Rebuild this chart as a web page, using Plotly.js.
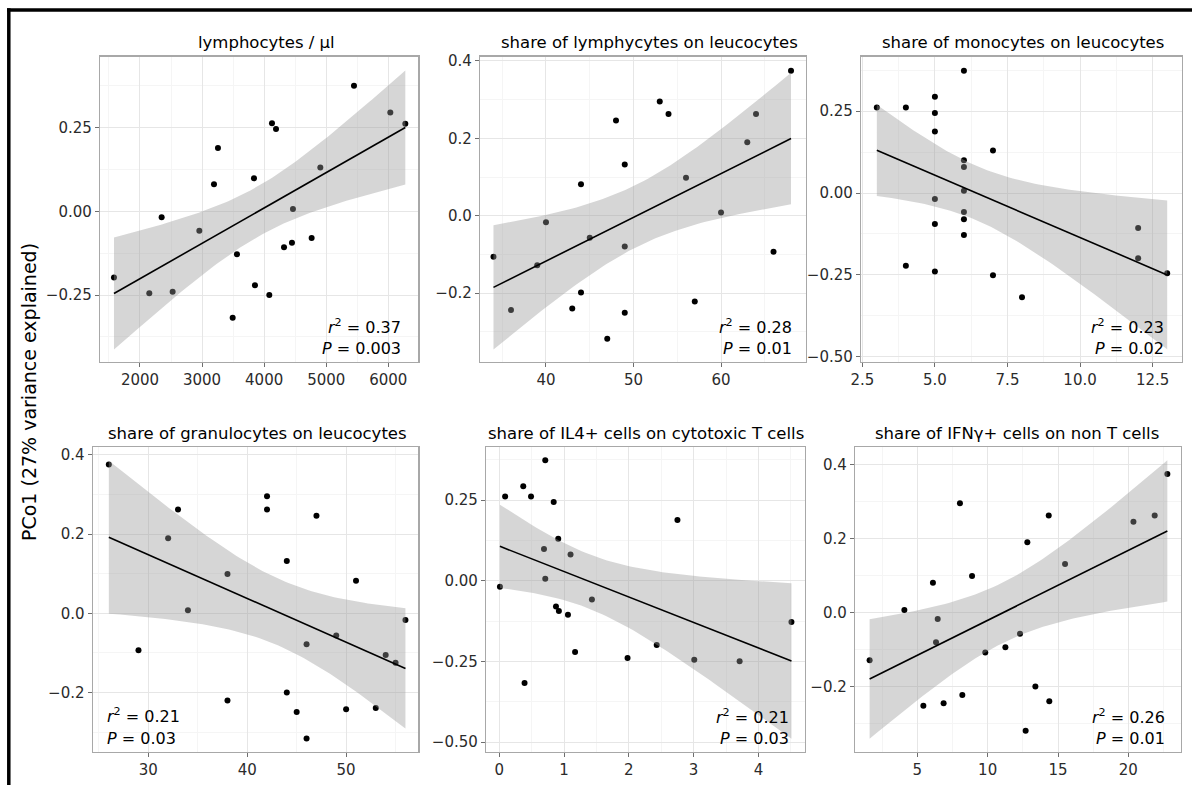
<!DOCTYPE html>
<html>
<head>
<meta charset="utf-8">
<script src="https://cdn.plot.ly/plotly-3.0.1.min.js"></script>
<style>
html,body{margin:0;padding:0;background:#ffffff;}
#chart{width:1192px;height:785px;}
</style>
</head>
<body>
<div id="chart"></div>
<script>
// ---------------- data ----------------
const panelTitles = [
  "lymphocytes / µl",
  "share of lymphycytes on leucocytes",
  "share of monocytes on leucocytes",
  "share of granulocytes on leucocytes",
  "share of IL4+ cells on cytotoxic T cells",
  "share of IFNγ+ cells on non T cells"
];
const yAxisTitle = "PCo1 (27% variance explained)";
const r2Values = ["0.37", "0.28", "0.23", "0.21", "0.21", "0.26"];
const pValues  = ["0.003", "0.01", "0.02", "0.03", "0.03", "0.01"];

const lymphPerUl = [1581, 2150, 2349, 2526, 2956, 3192, 3256, 3493, 3562, 3836, 3852, 4083, 4126, 4191, 4320, 4448, 4464, 4765, 4905, 5447, 6032, 6274];
const pco1Lymph  = [-0.198, -0.245, -0.018, -0.240, -0.058, 0.081, 0.189, -0.318, -0.128, 0.099, -0.221, -0.250, 0.263, 0.246, -0.107, -0.094, 0.007, -0.080, 0.131, 0.375, 0.295, 0.262];

const lymphShare = [34, 36, 39, 40, 43, 44, 44, 45, 47, 48, 49, 49, 49, 53, 54, 56, 57, 60, 63, 64, 66, 68];
const pco1LymphShare = [-0.106, -0.244, -0.128, -0.017, -0.240, 0.081, -0.199, -0.057, -0.318, 0.246, 0.132, -0.080, -0.251, 0.295, 0.263, 0.098, -0.222, 0.008, 0.190, 0.263, -0.093, 0.375];

const monoShare = [3, 4, 4, 5, 5, 5, 5, 5, 5, 6, 6, 6, 6, 6, 6, 6, 7, 7, 8, 12, 12, 13];
const pco1Mono  = [0.261, 0.261, -0.222, 0.294, 0.244, 0.188, -0.018, -0.095, -0.240, 0.373, 0.100, 0.079, 0.007, -0.058, -0.080, -0.128, 0.130, -0.251, -0.318, -0.107, -0.199, -0.245];

const granShare = [26, 29, 32, 33, 34, 38, 38, 42, 42, 44, 44, 45, 46, 46, 47, 49, 50, 51, 53, 54, 55, 56];
const pco1Gran  = [0.375, -0.093, 0.189, 0.262, 0.008, 0.099, -0.220, 0.295, 0.262, 0.132, -0.200, -0.249, -0.316, -0.078, 0.246, -0.056, -0.242, 0.082, -0.239, -0.105, -0.125, -0.017];

const il4Share = [0.01, 0.09, 0.37, 0.39, 0.49, 0.71, 0.69, 0.71, 0.84, 0.875, 0.91, 0.92, 1.06, 1.10, 1.17, 1.43, 1.98, 2.43, 2.75, 3.01, 3.71, 4.51];
const pco1Il4  = [-0.019, 0.261, 0.293, -0.317, 0.261, 0.373, 0.098, 0.006, 0.244, -0.080, 0.130, -0.094, -0.106, 0.081, -0.221, -0.058, -0.240, -0.199, 0.188, -0.245, -0.250, -0.128];

const ifngShare = [1.61, 4.08, 5.43, 6.11, 6.33, 6.45, 6.87, 8.03, 8.20, 8.89, 9.83, 11.26, 12.30, 12.70, 12.82, 13.39, 14.34, 14.38, 15.50, 20.36, 21.87, 22.77];
const pco1Ifng  = [-0.128, 0.007, -0.251, 0.081, -0.080, -0.017, -0.244, 0.295, -0.222, 0.099, -0.107, -0.093, -0.057, -0.318, 0.190, -0.199, 0.262, -0.239, 0.131, 0.245, 0.262, 0.374];

const seriesX = [lymphPerUl, lymphShare, monoShare, granShare, il4Share, ifngShare];
const seriesY = [pco1Lymph, pco1LymphShare, pco1Mono, pco1Gran, pco1Il4, pco1Ifng];

// ---------------- layout geometry (pixels in the 1192x785 page) ----------------
const W = 1192, H = 785;
const fx = p => p / W;
const fy = p => 1 - p / H;

const panels = [
  {l:100,  r:418.3,  t:56.5,  b:362, xr:[1356, 6483],   yr:[-0.4502, 0.4627], xd:1000, yd:0.25, xf:'d',   yf:'.2f',
   title:{x:266, y:43}, stat:{x:403, y1:326, y2:348, anchor:'right'}},
  {l:480,  r:806,    t:56.5,  b:362, xr:[32.46, 69.71], yr:[-0.3784, 0.4116], xd:10,   yd:0.2,  xf:'d',   yf:'.1f',
   title:{x:649, y:43}, stat:{x:794, y1:326, y2:348, anchor:'right'}},
  {l:861,  r:1181.7, t:56.5,  b:362, xr:[2.455, 13.5],  yr:[-0.5159, 0.4167], xd:2.5,  yd:0.25, xf:'.1f', yf:'.2f',
   title:{x:1023, y:43}, stat:{x:1166, y1:326, y2:348, anchor:'right'}},
  {l:92.7, r:418.3,  t:446.7, b:752, xr:[24.37, 57.3],  yr:[-0.3498, 0.4202], xd:10,   yd:0.2,  xf:'d',   yf:'.1f',
   title:{x:257.5, y:433}, stat:{x:105, y1:715, y2:738, anchor:'left'}},
  {l:486,  r:805,    t:446.7, b:752, xr:[-0.205, 4.719],yr:[-0.531, 0.4152],  xd:1,    yd:0.25, xf:'d',   yf:'.2f',
   title:{x:646, y:433}, stat:{x:791, y1:716, y2:738, anchor:'right'}},
  {l:855,  r:1181,   t:446.7, b:752, xr:[0.572, 23.74], yr:[-0.3755, 0.4474], xd:5,    yd:0.2,  xf:'d',   yf:'.1f',
   title:{x:1017, y:433}, stat:{x:1167, y1:716, y2:738, anchor:'right'}}
];

const FONT = 'DejaVu Sans, Liberation Sans, Arial, sans-serif';

// ---------------- linear fit with 95% confidence band (as geom_smooth(method="lm")) ----------------
function lmBand(xs, ys) {
  const n = xs.length;
  const mx = xs.reduce((a, b) => a + b, 0) / n;
  const my = ys.reduce((a, b) => a + b, 0) / n;
  let sxx = 0, sxy = 0;
  for (let i = 0; i < n; i++) { sxx += (xs[i] - mx) ** 2; sxy += (xs[i] - mx) * (ys[i] - my); }
  const b = sxy / sxx, a = my - b * mx;
  let sse = 0;
  for (let i = 0; i < n; i++) sse += (ys[i] - a - b * xs[i]) ** 2;
  const s = Math.sqrt(sse / (n - 2));
  const tq = 2.086; // qt(0.975, df = 20), n = 22
  const xmin = Math.min(...xs), xmax = Math.max(...xs);
  const gx = [], fit = [], lo = [], hi = [];
  const m = 80;
  for (let k = 0; k < m; k++) {
    const x = xmin + (xmax - xmin) * k / (m - 1);
    const yhat = a + b * x;
    const se = s * Math.sqrt(1 / n + (x - mx) ** 2 / sxx);
    gx.push(x); fit.push(yhat); lo.push(yhat - tq * se); hi.push(yhat + tq * se);
  }
  return {gx, fit, lo, hi};
}

const traces = [];
const layout = {
  width: W, height: H,
  margin: {l: 0, r: 0, t: 0, b: 0},
  paper_bgcolor: '#ffffff',
  plot_bgcolor: '#ffffff',
  showlegend: false,
  hovermode: false,
  font: {family: FONT, color: '#000000'},
  annotations: [],
  shapes: []
};

panels.forEach((p, i) => {
  const k = i === 0 ? '' : String(i + 1);
  const xa = 'x' + k, ya = 'y' + k;
  const xs = seriesX[i], ys = seriesY[i];
  const band = lmBand(xs, ys);

  // points
  traces.push({
    type: 'scatter', mode: 'markers', x: xs, y: ys, xaxis: xa, yaxis: ya,
    marker: {color: '#000000', size: 6, line: {width: 0}}, cliponaxis: false
  });
  // confidence ribbon (drawn above points, as in ggplot)
  traces.push({
    type: 'scatter', mode: 'lines', xaxis: xa, yaxis: ya,
    x: band.gx.concat(band.gx.slice().reverse()),
    y: band.hi.concat(band.lo.slice().reverse()),
    fill: 'toself', fillcolor: 'rgba(153,153,153,0.4)', line: {width: 0, color: 'rgba(0,0,0,0)'}
  });
  // fitted line
  traces.push({
    type: 'scatter', mode: 'lines', xaxis: xa, yaxis: ya,
    x: band.gx, y: band.fit, line: {color: '#000000', width: 1.6}
  });

  const common = {
    showline: true, mirror: true, linecolor: '#a8a8a8', linewidth: 1.2,
    ticks: 'outside', ticklen: 4, tickwidth: 1, tickcolor: '#6e6e6e',
    showgrid: true, gridcolor: '#e6e6e6', gridwidth: 1, zeroline: false,
    tickfont: {family: FONT, size: 15, color: '#2b2b2b'},
    fixedrange: true, tickmode: 'linear', tick0: 0
  };
  layout['xaxis' + k] = Object.assign({}, common, {
    domain: [fx(p.l), fx(p.r)], range: p.xr, anchor: ya, dtick: p.xd, tickformat: p.xf,
    minor: {dtick: p.xd / 2, showgrid: true, gridcolor: '#f5f5f5', gridwidth: 1}
  });
  layout['yaxis' + k] = Object.assign({}, common, {
    domain: [fy(p.b), fy(p.t)], range: p.yr, anchor: xa, dtick: p.yd, tickformat: p.yf,
    minor: {dtick: p.yd / 2, showgrid: true, gridcolor: '#f5f5f5', gridwidth: 1}
  });

  layout.annotations.push({
    xref: 'paper', yref: 'paper', x: fx(p.title.x), y: fy(p.title.y),
    xanchor: 'center', yanchor: 'middle', showarrow: false,
    text: panelTitles[i], font: {family: FONT, size: 16.5, color: '#000000'}
  });
  layout.annotations.push({
    xref: 'paper', yref: 'paper', x: fx(p.stat.x), y: fy(p.stat.y1),
    xanchor: p.stat.anchor, yanchor: 'middle', showarrow: false, align: p.stat.anchor,
    text: '<i>r</i><sup>2</sup> = ' + r2Values[i], font: {family: FONT, size: 16, color: '#000000'}
  });
  layout.annotations.push({
    xref: 'paper', yref: 'paper', x: fx(p.stat.x), y: fy(p.stat.y2),
    xanchor: p.stat.anchor, yanchor: 'middle', showarrow: false, align: p.stat.anchor,
    text: '<i>P</i> = ' + pValues[i], font: {family: FONT, size: 16, color: '#000000'}
  });
});

// shared y-axis title
layout.annotations.push({
  xref: 'paper', yref: 'paper', x: fx(29), y: fy(392),
  xanchor: 'center', yanchor: 'middle', showarrow: false, textangle: -90,
  text: yAxisTitle, font: {family: FONT, size: 19, color: '#000000'}
});

// outer black frame (left and top edges visible in the picture)
layout.shapes.push({type: 'line', xref: 'paper', yref: 'paper', x0: fx(8.8), x1: fx(8.8), y0: fy(8.3), y1: -0.02, line: {color: '#000000', width: 3.5}});
layout.shapes.push({type: 'line', xref: 'paper', yref: 'paper', x0: fx(7), x1: 1.02, y0: fy(10), y1: fy(10), line: {color: '#000000', width: 3.5}});

Plotly.newPlot('chart', traces, layout, {staticPlot: true, displayModeBar: false});
</script>
</body>
</html>
